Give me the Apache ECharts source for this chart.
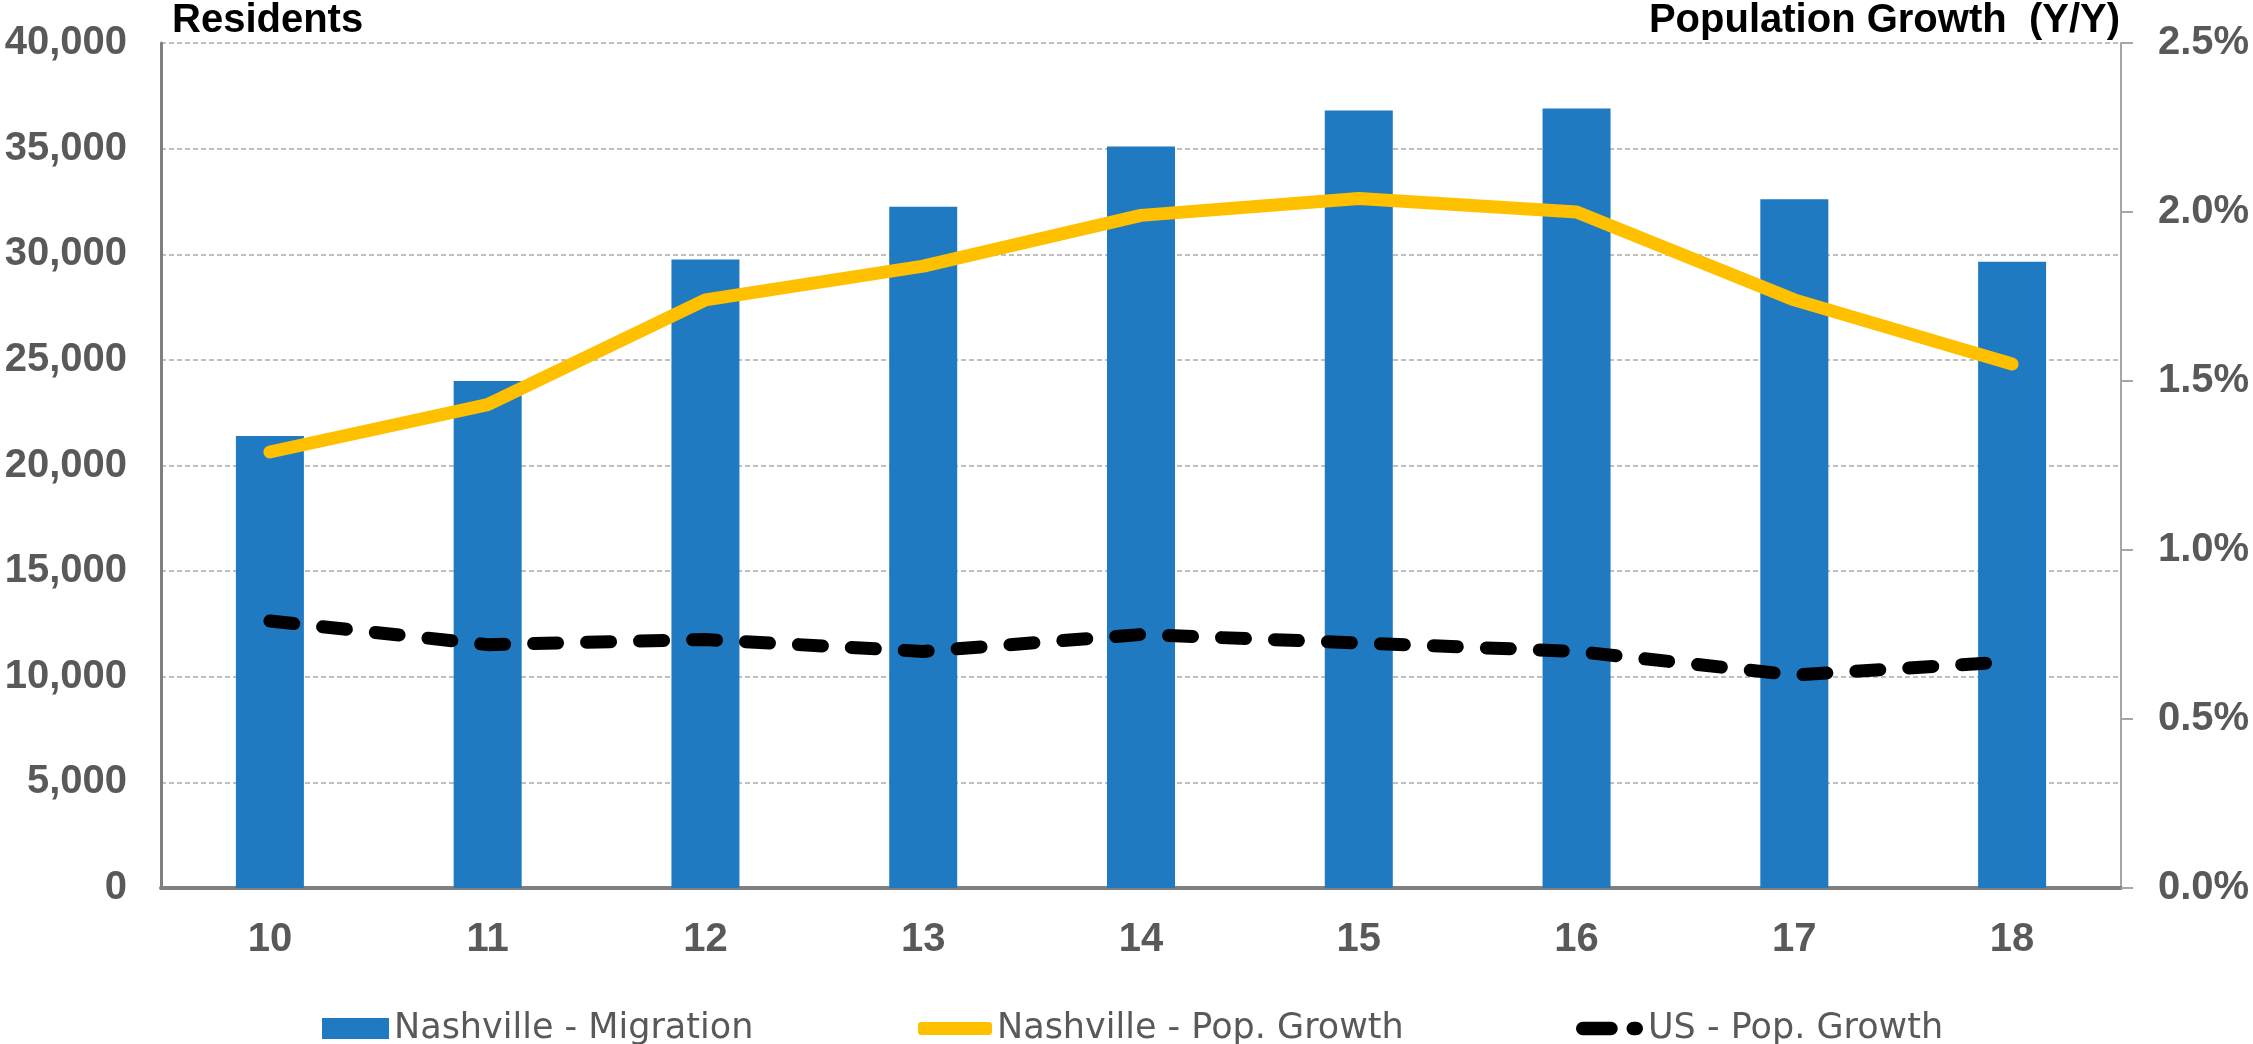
<!DOCTYPE html>
<html>
<head>
<meta charset="utf-8">
<script src="https://cdn.jsdelivr.net/npm/echarts@6/dist/echarts.min.js"></script>
<style>
  html, body { margin: 0; padding: 0; background: #ffffff; }
  #chart { width: 2253px; height: 1044px; }
</style>
</head>
<body>
<div id="chart"></div>
<script>
// Nashville net migration (residents) and population growth, 2010-2018
const years = ['10', '11', '12', '13', '14', '15', '16', '17', '18'];
const nashvilleMigration = [21400, 24000, 29750, 32250, 35100, 36800, 36900, 32600, 29650];
const nashvilleGrowth = [1.29, 1.43, 1.74, 1.84, 1.99, 2.04, 2.00, 1.74, 1.55];
const usGrowth = [0.79, 0.72, 0.735, 0.70, 0.75, 0.725, 0.70, 0.63, 0.67];

const seriesNames = ['Nashville - Migration', 'Nashville - Pop. Growth', 'US - Pop. Growth'];
const leftAxisTitle = 'Residents';
const rightAxisTitle = 'Population Growth  (Y/Y)';

const FONT = '"Liberation Sans", Arial, sans-serif';
const LEGEND_FONT = '"DejaVu Sans", "Liberation Sans", sans-serif';
const LABEL_GREY = '#595959';

// Two rounded dashes for the dashed-line legend key
const dashIcon = 'path://M7,0 L36,0 A7,7 0 0 1 36,14 L7,14 A7,7 0 0 1 7,0 Z ' +
                 'M59,0 L62,0 A7,7 0 0 1 62,14 L59,14 A7,7 0 0 1 59,0 Z';

const chart = echarts.init(document.getElementById('chart'), null, { renderer: 'canvas' });

const legendText = { color: LABEL_GREY, fontSize: 35, fontFamily: LEGEND_FONT, fontWeight: 'normal' };
const axisLabelFont = { color: LABEL_GREY, fontSize: 40, fontWeight: 'bold', fontFamily: FONT };

chart.setOption({
  animation: false,
  backgroundColor: '#ffffff',
  title: [
    {
      text: leftAxisTitle, left: 172, top: 1, padding: 0,
      textStyle: { color: '#000000', fontSize: 40, fontWeight: 'bold', fontFamily: FONT }
    },
    {
      text: rightAxisTitle, right: 133, top: 1, padding: 0,
      textStyle: { color: '#000000', fontSize: 40, fontWeight: 'bold', fontFamily: FONT }
    }
  ],
  legend: [
    {
      data: [seriesNames[0]], left: 322, top: 1011, padding: 0,
      icon: 'rect', itemWidth: 67, itemHeight: 21, itemGap: 5,
      itemStyle: { borderWidth: 0 },
      textStyle: legendText
    },
    {
      data: [seriesNames[1]], left: 918, top: 1011, padding: 0,
      icon: 'roundRect', itemWidth: 74, itemHeight: 13, itemGap: 5,
      itemStyle: { borderWidth: 0 },
      textStyle: legendText
    },
    {
      data: [seriesNames[2]], left: 1576, top: 1011, padding: 0,
      icon: dashIcon, itemWidth: 67, itemHeight: 14, itemGap: 5,
      itemStyle: { borderWidth: 0 },
      textStyle: legendText
    }
  ],
  grid: { left: 161, right: 132, top: 43, bottom: 156, containLabel: false },
  xAxis: {
    type: 'category',
    data: years,
    boundaryGap: true,
    axisLine: { show: true, lineStyle: { color: '#808080', width: 4 } },
    axisTick: { show: false },
    axisLabel: Object.assign({ margin: 32 }, axisLabelFont),
    splitLine: { show: false }
  },
  yAxis: [
    {
      type: 'value',
      min: 0, max: 40000, interval: 5000,
      position: 'left',
      axisLine: { show: true, lineStyle: { color: '#808080', width: 3 } },
      axisTick: { show: false },
      axisLabel: Object.assign({ margin: 34, formatter: v => v.toLocaleString('en-US') }, axisLabelFont),
      splitLine: { show: true, lineStyle: { color: '#c0c0c0', width: 2, type: [5, 3] } }
    },
    {
      type: 'value',
      min: 0, max: 2.5, interval: 0.5,
      position: 'right',
      axisLine: { show: true, lineStyle: { color: '#a6a6a6', width: 2 } },
      axisTick: { show: true, inside: false, length: 12, lineStyle: { color: '#a6a6a6', width: 2 } },
      axisLabel: Object.assign({ margin: 37, formatter: v => v.toFixed(1) + '%' }, axisLabelFont),
      splitLine: { show: false }
    }
  ],
  series: [
    {
      name: seriesNames[0],
      type: 'bar',
      yAxisIndex: 0,
      data: nashvilleMigration,
      barWidth: 68,
      itemStyle: { color: '#1f7ac2' },
      z: 2
    },
    {
      name: seriesNames[2],
      type: 'line',
      yAxisIndex: 1,
      data: usGrowth,
      symbol: 'none',
      showSymbol: false,
      itemStyle: { color: '#000000' },
      lineStyle: { color: '#000000', width: 13, type: [24, 29], cap: 'round', join: 'round' },
      z: 3
    },
    {
      name: seriesNames[1],
      type: 'line',
      yAxisIndex: 1,
      data: nashvilleGrowth,
      symbol: 'none',
      showSymbol: false,
      itemStyle: { color: '#ffc000' },
      lineStyle: { color: '#ffc000', width: 13, cap: 'round', join: 'round' },
      z: 4
    }
  ]
});
</script>
</body>
</html>
